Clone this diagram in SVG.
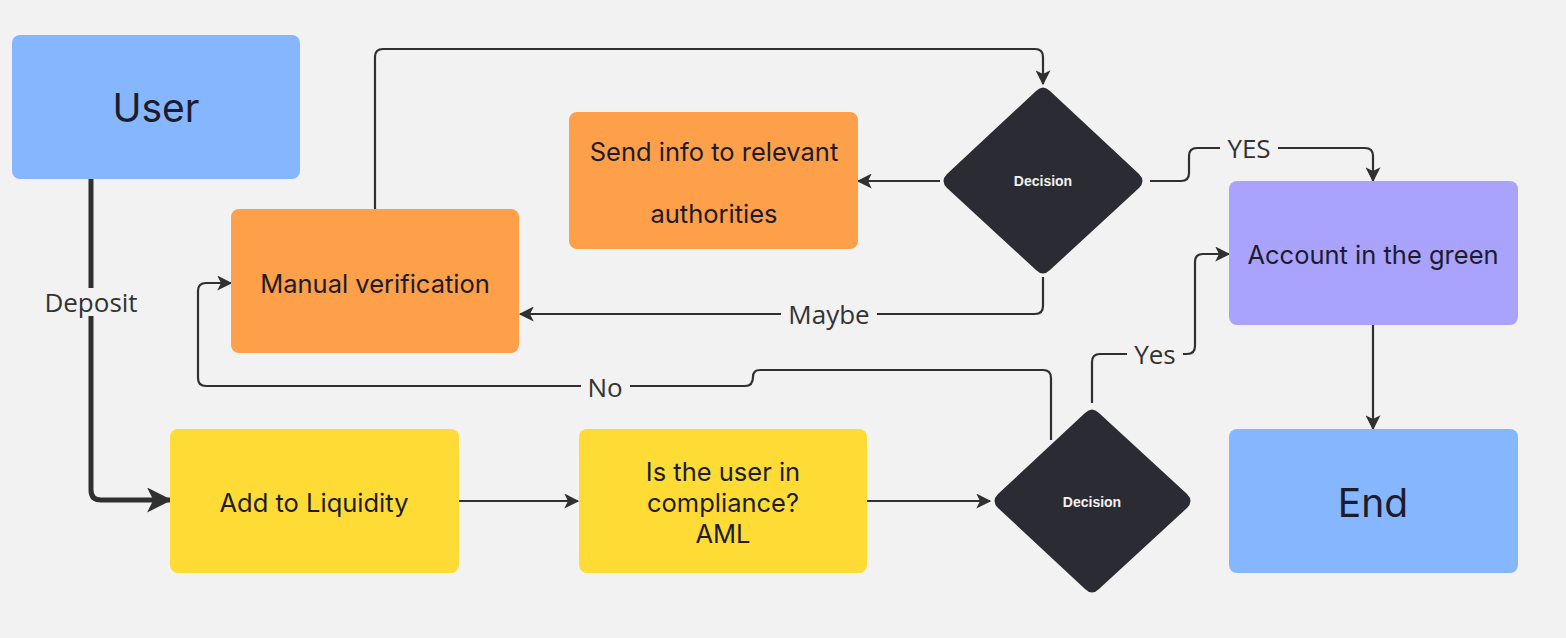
<svg xmlns="http://www.w3.org/2000/svg" width="1566" height="638" viewBox="0 0 1566 638">
<style>
.bg{fill:#f2f2f2}
.blue{fill:#86b7fe}
.orange{fill:#fe9f4a}
.yellow{fill:#fedc35}
.purple{fill:#aaa3fe}
.dia{fill:#2b2c33}
.t{font-family:Inter,"Noto Sans",sans-serif;fill:#1d1c2c;text-anchor:middle;dominant-baseline:central}
.big{font-size:39px}
.mid{font-size:25.5px}
.dt{font-family:"Liberation Sans",Arial,sans-serif;font-size:14px;font-weight:bold;fill:#f2f2f2;text-anchor:middle;dominant-baseline:central}
.c{fill:none;stroke:#303030;stroke-width:2.2;stroke-linejoin:round}
.lbl{font-family:"Open Sans",sans-serif;font-size:26px;fill:#333;text-anchor:middle;dominant-baseline:central}
</style>
<defs>
<marker id="ah" viewBox="0 0 12 12" refX="11" refY="6" markerWidth="15" markerHeight="15" markerUnits="userSpaceOnUse" orient="auto">
<path d="M0,0 L12,6 L0,12 L3,6 z" fill="#303030"/>
</marker>
<marker id="ahb" viewBox="0 0 12 12" refX="11" refY="6" markerWidth="25" markerHeight="25" markerUnits="userSpaceOnUse" orient="auto">
<path d="M0,0 L12,6 L0,12 L3,6 z" fill="#303030"/>
</marker>
</defs>
<rect class="bg" x="0" y="0" width="1566" height="638"/>

<g id="connectors">
<path class="c" style="stroke-width:5" d="M91,179 V288"/>
<path class="c" style="stroke-width:5" d="M91,316 V490 Q91,500 101,500 H170" marker-end="url(#ahb)"/>
<text class="lbl" x="91" y="302">Deposit</text>
<path class="c" d="M459,501 H578" marker-end="url(#ah)"/>
<path class="c" d="M867,501 H990" marker-end="url(#ah)"/>
<path class="c" d="M375,209 V57 Q375,49 383,49 H1035 Q1043,49 1043,57 V84" marker-end="url(#ah)"/>
<path class="c" d="M940,181 H858" marker-end="url(#ah)"/>
<path class="c" d="M1043,277 V306 Q1043,314 1035,314 H877"/>
<path class="c" d="M781,314 H520" marker-end="url(#ah)"/>
<text class="lbl" x="829" y="314">Maybe</text>
<path class="c" d="M1150,181 H1181 Q1189,181 1189,173 V156 Q1189,148 1197,148 H1220"/>
<path class="c" d="M1278,148 H1365 Q1373,148 1373,156 V181" marker-end="url(#ah)"/>
<text class="lbl" x="1249" y="148">YES</text>
<path class="c" d="M1092,403 V362 Q1092,354 1100,354 H1127"/>
<path class="c" d="M1183,354 H1187 Q1195,354 1195,346 V262 Q1195,254 1203,254 H1229" marker-end="url(#ah)"/>
<text class="lbl" x="1155" y="354">Yes</text>
<path class="c" d="M1051,440 V378 Q1051,370 1043,370 H760 Q753,370 753,377 Q753,386 745,386 H630"/>
<path class="c" d="M581,386 H206 Q198,386 198,378 V291 Q198,283 206,283 H231" marker-end="url(#ah)"/>
<text class="lbl" x="605" y="387">No</text>
<path class="c" d="M1373,325 V429" marker-end="url(#ah)"/>
</g>

<g id="user">
<rect class="blue" x="12" y="35" width="288" height="144" rx="8"/>
<text class="t big" x="156" y="107">User</text>
</g>
<g id="manual-verification">
<rect class="orange" x="231" y="209" width="288" height="144" rx="8"/>
<text class="t mid" x="375" y="283">Manual verification</text>
</g>
<g id="send-info">
<rect class="orange" x="569" y="112" width="289" height="137" rx="8"/>
<text class="t mid" x="714" y="151">Send info to relevant</text>
<text class="t mid" x="714" y="213">authorities</text>
</g>
<g id="decision-1">
<path class="dia" d="M1036,91 Q1043,84 1050,91 L1139,174 Q1146,181 1139,188 L1050,270 Q1043,277 1036,270 L947,188 Q940,181 947,174 Z"/>
<text class="dt" x="1043" y="181">Decision</text>
</g>
<g id="account-green">
<rect class="purple" x="1229" y="181" width="289" height="144" rx="8"/>
<text class="t mid" x="1373" y="254">Account in the green</text>
</g>
<g id="add-liquidity">
<rect class="yellow" x="170" y="429" width="289" height="144" rx="8"/>
<text class="t mid" x="314" y="502">Add to Liquidity</text>
</g>
<g id="compliance">
<rect class="yellow" x="579" y="429" width="288" height="144" rx="8"/>
<text class="t mid" x="723" y="471">Is the user in</text>
<text class="t mid" x="723" y="502">compliance?</text>
<text class="t mid" x="723" y="533">AML</text>
</g>
<g id="decision-2">
<path class="dia" d="M1085,413 Q1092,406 1099,413 L1187,494 Q1194,501 1187,508 L1099,589 Q1092,596 1085,589 L998,508 Q991,501 998,494 Z"/>
<text class="dt" x="1092" y="502">Decision</text>
</g>
<g id="end">
<rect class="blue" x="1229" y="429" width="289" height="144" rx="8"/>
<text class="t big" x="1373" y="502">End</text>
</g>
</svg>
